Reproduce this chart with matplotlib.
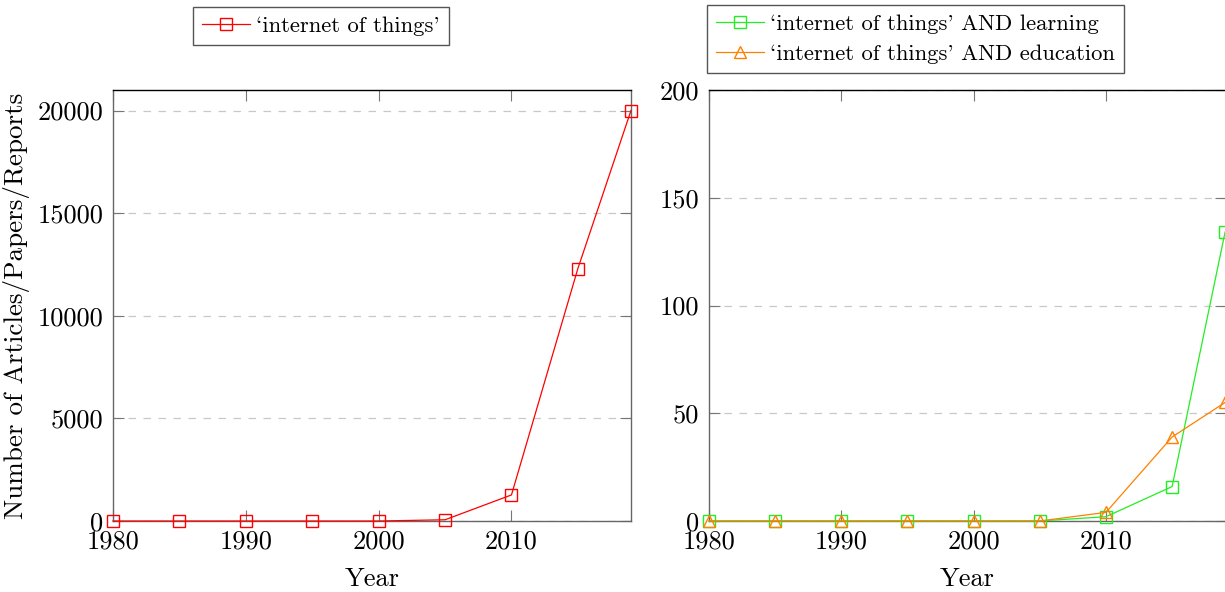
import matplotlib
matplotlib.use("Agg")
import matplotlib.pyplot as plt

plt.rcParams['font.family'] = ['cmr10', 'DejaVu Serif']
plt.rcParams['axes.formatter.use_mathtext'] = True

years = [1980, 1985, 1990, 1995, 2000, 2005, 2010, 2015, 2019]
iot = [0, 0, 0, 0, 0, 60, 1270, 12300, 20000]
iot_learning = [0, 0, 0, 0, 0, 0, 2, 16, 134]
iot_education = [0, 0, 0, 0, 0, 0, 4, 39, 55]

xticks = [1980, 1990, 2000, 2010]
left_yticks = [0, 5000, 10000, 15000, 20000]
right_yticks = [0, 50, 100, 150, 200]

label_iot = "`internet of things'"
label_learn = "`internet of things' AND learning"
label_edu = "`internet of things' AND education"

W, H = 1225, 592
fig = plt.figure(figsize=(W / 100, H / 100), dpi=100)

def px_axes(x0, y0, x1, y1):
    return fig.add_axes([x0 / W, 1 - y1 / H, (x1 - x0) / W, (y1 - y0) / H])

FS = 19
spine_col = '#666666'

def style(ax, yticks, ylim):
    ax.set_xlim(1980, 2019)
    ax.set_ylim(*ylim)
    ax.set_xticks(xticks)
    ax.set_xticklabels([str(v) for v in xticks])
    ax.set_yticks(yticks)
    ax.set_yticklabels([str(v) for v in yticks])
    ax.tick_params(direction='in', length=8, width=0.8, color='#777777',
                   top=True, right=True, labelsize=FS)
    ax.tick_params(axis='x', pad=6)
    ax.tick_params(axis='y', pad=7)
    for s in ['left', 'bottom', 'right']:
        ax.spines[s].set_color(spine_col)
        ax.spines[s].set_linewidth(1.0)
    ax.spines['top'].set_color('black')
    ax.spines['top'].set_linewidth(1.0)
    ax.yaxis.grid(True, linestyle=(0, (6, 6)), color='#c8c8c8', linewidth=0.9)
    ax.set_axisbelow(True)
    ax.set_xlabel('Year', fontsize=FS, labelpad=10)

ax1 = px_axes(113, 90, 631, 521)
style(ax1, left_yticks, (0, 21000))
ax1.plot(years, iot, color='#ff0000', lw=0.9, marker='s', ms=8.5,
         mfc='none', mec='#ff0000', mew=1.0, clip_on=False,
         label=label_iot, zorder=3)
ax1.set_ylabel('Number of Articles/Papers/Reports', fontsize=19.5, labelpad=5)

ax2 = px_axes(709, 90, 1226, 521)
style(ax2, right_yticks, (0, 200))
ax2.set_xlim(1980, 2019.07)
ax2.plot(years, iot_learning, color='#22ee22', lw=0.9, marker='s', ms=8.5,
         mfc='none', mec='#22ee22', mew=1.0, clip_on=False,
         label=label_learn, zorder=3)
ax2.plot(years, iot_education, color='#ff8000', lw=0.9, marker='^', ms=8,
         mfc='none', mec='#ff8000', mew=1.0, clip_on=False,
         label=label_edu, zorder=4)

legkw = dict(fontsize=16.3, frameon=True, fancybox=False, shadow=False,
             edgecolor='#555555', framealpha=1, borderpad=0.4,
             handlelength=2.1, handletextpad=0.3, labelspacing=0.45,
             borderaxespad=0)
l1 = fig.legend(handles=ax1.get_lines(), loc='upper left',
                bbox_to_anchor=(193 / W, 1 - 7 / H), **legkw)
l2 = fig.legend(handles=ax2.get_lines(), loc='upper left',
                bbox_to_anchor=(707 / W, 1 - 5 / H), **legkw)
for l in (l1, l2):
    l.get_frame().set_linewidth(1.0)

fig.savefig('out.png', dpi=100)
